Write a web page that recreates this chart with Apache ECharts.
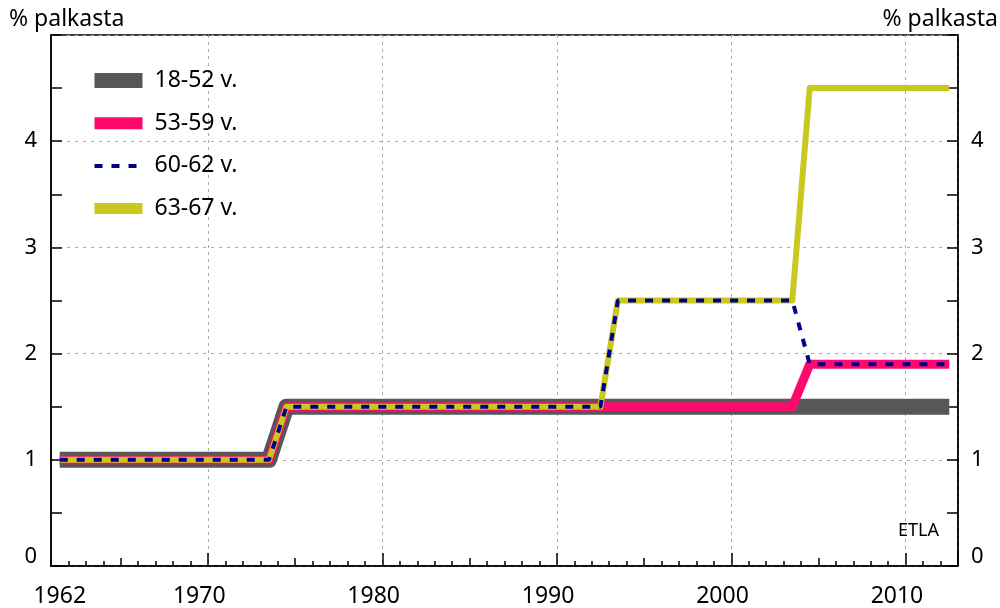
<!DOCTYPE html>
<html>
<head>
<meta charset="utf-8">
<script src="https://cdn.jsdelivr.net/npm/echarts@6/dist/echarts.min.js"></script>
<style>html,body{margin:0;padding:0;background:#fff}#c{width:1000px;height:608px}</style>
</head>
<body>
<div id="c"></div>
<script>
var years = ['1962','1963','1964','1965','1966','1967','1968','1969','1970','1971','1972','1973','1974','1975','1976','1977','1978','1979','1980','1981','1982','1983','1984','1985','1986','1987','1988','1989','1990','1991','1992','1993','1994','1995','1996','1997','1998','1999','2000','2001','2002','2003','2004','2005','2006','2007','2008','2009','2010','2011','2012','2013'];
// 1962-1974 | 1975-1993 | 1994-2004 | 2005-2013
var s18_52 = [1,1,1,1,1,1,1,1,1,1,1,1,1, 1.5,1.5,1.5,1.5,1.5,1.5,1.5,1.5,1.5,1.5,1.5,1.5,1.5,1.5,1.5,1.5,1.5,1.5,1.5, 1.5,1.5,1.5,1.5,1.5,1.5,1.5,1.5,1.5,1.5,1.5, 1.5,1.5,1.5,1.5,1.5,1.5,1.5,1.5,1.5];
var s53_59 = [1,1,1,1,1,1,1,1,1,1,1,1,1, 1.5,1.5,1.5,1.5,1.5,1.5,1.5,1.5,1.5,1.5,1.5,1.5,1.5,1.5,1.5,1.5,1.5,1.5,1.5, 1.5,1.5,1.5,1.5,1.5,1.5,1.5,1.5,1.5,1.5,1.5, 1.9,1.9,1.9,1.9,1.9,1.9,1.9,1.9,1.9];
var s60_62 = [1,1,1,1,1,1,1,1,1,1,1,1,1, 1.5,1.5,1.5,1.5,1.5,1.5,1.5,1.5,1.5,1.5,1.5,1.5,1.5,1.5,1.5,1.5,1.5,1.5,1.5, 2.5,2.5,2.5,2.5,2.5,2.5,2.5,2.5,2.5,2.5,2.5, 1.9,1.9,1.9,1.9,1.9,1.9,1.9,1.9,1.9];
var s63_67 = [1,1,1,1,1,1,1,1,1,1,1,1,1, 1.5,1.5,1.5,1.5,1.5,1.5,1.5,1.5,1.5,1.5,1.5,1.5,1.5,1.5,1.5,1.5,1.5,1.5,1.5, 2.5,2.5,2.5,2.5,2.5,2.5,2.5,2.5,2.5,2.5,2.5, 4.5,4.5,4.5,4.5,4.5,4.5,4.5,4.5,4.5];
var names = ['18-52 v.','53-59 v.','60-62 v.','63-67 v.'];
var yTitle = '% palkasta';
var source = 'ETLA';

var FONT = 'Noto Sans';
var chart = echarts.init(document.getElementById('c'));
function xa(extra) {
  return Object.assign({
    type: 'category', data: years, boundaryGap: true, position: 'bottom',
    axisLine: {show: false}, axisLabel: {show: false}, splitLine: {show: false},
    axisTick: {show: false}
  }, extra);
}
var yBase = {
  type: 'value', min: 0, max: 5, interval: 1,
  axisLine: {show: true, lineStyle: {color: '#000', width: 1.5}},
  axisTick: {show: true, inside: true, length: 11, lineStyle: {color: '#000', width: 1.5}},
  minorTick: {show: true, splitNumber: 2, length: 11, lineStyle: {color: '#000', width: 1.5}},
  axisLabel: {color: '#000', fontFamily: FONT, fontSize: 22,
    formatter: function (v) { return v >= 5 ? '' : (v === 0 ? '{z|0}' : String(v)); },
    rich: {z: {fontFamily: FONT, fontSize: 22, color: '#000', padding: [0, 0, 18, 0]}}}
};
chart.setOption({
  animation: false,
  grid: {left: 51, right: 42, top: 35, bottom: 41, show: true, borderColor: '#000', borderWidth: 1.5, containLabel: false},
  graphic: [
    {type: 'text', left: 9, top: 8, style: {text: yTitle, font: '23px "Noto Sans"', fill: '#000'}},
    {type: 'text', right: 2, top: 8, style: {text: yTitle, font: '23px "Noto Sans"', fill: '#000'}},
    {type: 'text', right: 61, top: 522, style: {text: source, font: '18px "Noto Sans"', fill: '#000'}}
  ],
  legend: {
    orient: 'vertical', left: 87, top: 69, padding: 0,
    itemWidth: 48, itemHeight: 16, itemGap: 19.7,
    textStyle: {fontFamily: FONT, fontSize: 23, color: '#000', padding: [0, 0, 0, 7]},
    data: [
      {name: names[0], lineStyle: {width: 15}, itemStyle: {opacity: 0}},
      {name: names[1], lineStyle: {width: 12}, itemStyle: {opacity: 0}},
      {name: names[2], lineStyle: {width: 4}, itemStyle: {opacity: 0}},
      {name: names[3], lineStyle: {width: 11}, itemStyle: {opacity: 0}}
    ]
  },
  xAxis: [
    xa({
      axisLine: {show: true, lineStyle: {color: '#000', width: 1.5}},
      axisTick: {show: true, inside: true, length: 5, interval: 0, lineStyle: {color: '#000', width: 1.5}},
      axisLabel: {show: true, color: '#000', fontFamily: FONT, fontSize: 23, margin: 19,
        interval: function (i, v) { return v === '1962' || (+v) % 10 === 0; }},
      splitLine: {show: true, interval: function (i, v) { return (+v) % 10 === 1; },
        lineStyle: {color: '#aaa', type: [3, 4], width: 1}}
    }),
    xa({axisTick: {show: true, inside: true, length: 13, interval: function (i, v) { return (+v) % 10 === 1; }, lineStyle: {color: '#000', width: 1.5}}}),
    xa({axisTick: {show: true, inside: true, length: 8, interval: function (i, v) { return (+v) % 10 === 6; }, lineStyle: {color: '#000', width: 1.5}}})
  ],
  yAxis: [
    Object.assign({}, yBase, {position: 'left', axisLabel: Object.assign({}, yBase.axisLabel, {margin: 14}),
      splitLine: {show: true, lineStyle: {color: '#aaa', type: [3, 5], width: 1}}}),
    Object.assign({}, yBase, {position: 'right', axisLabel: Object.assign({}, yBase.axisLabel, {margin: 13}),
      splitLine: {show: false}})
  ],
  series: [
    {name: names[0], type: 'line', data: s18_52, symbol: 'none', z: 2,
      lineStyle: {color: '#575757', width: 16, join: 'round'}, itemStyle: {color: '#575757'}},
    {name: names[1], type: 'line', data: s53_59, symbol: 'none', z: 3,
      lineStyle: {color: '#FF0A6C', width: 9, join: 'round'}, itemStyle: {color: '#FF0A6C'}},
    {name: names[2], type: 'line', data: s60_62, symbol: 'none', z: 5,
      lineStyle: {color: '#000090', width: 4, type: [8, 9]}, itemStyle: {color: '#000090'}},
    {name: names[3], type: 'line', data: s63_67, symbol: 'none', z: 4,
      lineStyle: {color: '#C8C81E', width: 6, join: 'round'}, itemStyle: {color: '#C8C81E'}}
  ]
});
</script>
</body>
</html>
